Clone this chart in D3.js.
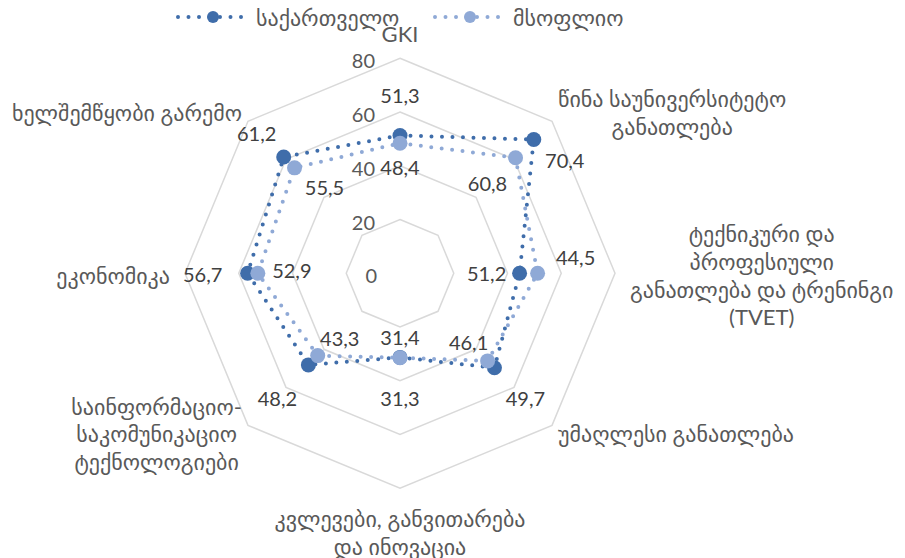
<!DOCTYPE html>
<html>
<head>
<meta charset="utf-8">
<script src="https://cdn.jsdelivr.net/npm/d3@7"></script>
<style>
  html, body { margin: 0; padding: 0; background: #fff; }
  svg { display: block; }
  text { font-family: "Lato", "DejaVu Sans", sans-serif; }
</style>
</head>
<body>
<svg id="chart" width="905" height="558"></svg>
<script>
// Global Knowledge Index pillars: Georgia vs. world average
const categories = [
  "GKI",
  "წინა საუნივერსიტეტო\nგანათლება",
  "ტექნიკური და\nპროფესიული\nგანათლება და ტრენინგი\n(TVET)",
  "უმაღლესი განათლება",
  "კვლევები, განვითარება\nდა ინოვაცია",
  "საინფორმაციო-\nსაკომუნიკაციო\nტექნოლოგიები",
  "ეკონომიკა",
  "ხელშემწყობი გარემო"
];
const seriesNames = ["საქართველო", "მსოფლიო"];
const georgiaValues = [51.3, 70.4, 44.5, 49.7, 31.3, 48.2, 56.7, 61.2];
const worldValues = [48.4, 60.8, 51.2, 46.1, 31.4, 43.3, 52.9, 55.5];
const tickValues = [0, 20, 40, 60, 80];

// Layout and style
const cx = 400, cy = 273.3, R = 215;
const colors = ["#3f6daa", "#8fa9d6"];
const gridColor = "#d9d9d9";
const axisText = "#595959";
const valueText = "#404040";
const catFont = 22;
const numFont = 20;

// Data-label nudges (pixels from each marker), per series and axis
const labelNudge = [
  [[0, -40], [31, 20], [56, -16], [31, 30], [0, 41], [-31, 33], [-45, 1], [-27, -24]],
  [[0, 24], [-28, 25], [-51, 0], [-19, -19], [0, -21], [22, -18], [34, -3], [30, 19]]
];

const svg = d3.select("#chart");
const n = categories.length;
const r = d3.scaleLinear().domain([0, 80]).range([0, R]);
const angle = d3.scaleLinear().domain([0, n]).range([0, 2 * Math.PI]);
const fmt = v => d3.format(".1f")(v).replace(".", ",");

const pt = (i, v) => {
  const a = angle(i);
  return [cx + r(v) * Math.sin(a), cy - r(v) * Math.cos(a)];
};

const g = svg.append("g");

// Octagonal grid rings
const ring = d3.lineRadial()
  .angle((d, i) => angle(i))
  .radius(d => r(d))
  .curve(d3.curveLinearClosed);

g.append("g")
  .attr("transform", `translate(${cx},${cy})`)
  .selectAll("path")
  .data(tickValues.filter(t => t > 0))
  .join("path")
  .attr("d", t => ring(d3.range(n).map(() => t)))
  .attr("fill", "none")
  .attr("stroke", gridColor)
  .attr("stroke-width", 1.5);

// Radial tick labels along the top axis
g.append("g")
  .selectAll("text")
  .data(tickValues)
  .join("text")
  .attr("x", t => cx - 25 + (t === 0 ? 2 : 0))
  .attr("y", t => cy - r(t) + 2)
  .attr("text-anchor", "end")
  .attr("dominant-baseline", "central")
  .attr("font-size", numFont)
  .attr("fill", axisText)
  .text(t => t);

// Category labels around the outer ring
const catG = g.append("g");
categories.forEach((label, i) => {
  const a = angle(i);
  const sx = Math.sin(a), sy = -Math.cos(a);
  const [vx, vy] = pt(i, 80);
  const lines = label.split("\n");
  const LH = 27.7;
  const t = catG.append("text")
    .attr("font-size", catFont)
    .attr("fill", axisText)
    .attr("text-anchor", "middle");
  const spans = lines.map(s => t.append("tspan").attr("dominant-baseline", "central").text(s));
  const W = d3.max(spans, s => s.node().getComputedTextLength());
  let xc, yc;
  if (Math.abs(sx) < 0.1) {
    xc = vx;
    yc = sy < 0 ? vy - 25 - (lines.length - 1) * LH / 2
                : vy + 30 + (lines.length - 1) * LH / 2;
  } else {
    const pad = Math.abs(sy) < 0.1 ? 15 : 6;
    xc = sx > 0 ? vx + pad + W / 2 : vx - pad - W / 2;
    yc = vy + sy * 12 + (Math.abs(sy) < 0.1 ? 2 : 0);
  }
  spans.forEach((s, k) => {
    s.attr("x", xc).attr("y", yc + (k - (lines.length - 1) / 2) * LH);
  });
});

// Series polygons, markers and value labels
const series = [georgiaValues, worldValues];
const line = d3.line().curve(d3.curveLinearClosed);

series.forEach((vals, si) => {
  const sg = g.append("g");
  const pts = vals.map((v, i) => pt(i, v));
  sg.append("path")
    .attr("d", line(pts))
    .attr("fill", "none")
    .attr("stroke", colors[si])
    .attr("stroke-width", 4)
    .attr("stroke-linecap", "round")
    .attr("stroke-dasharray", "0 10.5");
  sg.selectAll("circle")
    .data(pts)
    .join("circle")
    .attr("cx", d => d[0])
    .attr("cy", d => d[1])
    .attr("r", 7.5)
    .attr("fill", colors[si]);
});

series.forEach((vals, si) => {
  g.append("g")
    .selectAll("text")
    .data(vals)
    .join("text")
    .attr("x", (v, i) => pt(i, v)[0] + labelNudge[si][i][0])
    .attr("y", (v, i) => pt(i, v)[1] + labelNudge[si][i][1])
    .attr("text-anchor", "middle")
    .attr("dominant-baseline", "central")
    .attr("font-size", numFont)
    .attr("fill", valueText)
    .text(v => fmt(v));
});

// Legend
const legendX = [178, 435];
const legend = svg.append("g");
seriesNames.forEach((name, si) => {
  const x0 = legendX[si], y0 = 17;
  legend.append("line")
    .attr("x1", x0).attr("x2", x0 + 67)
    .attr("y1", y0).attr("y2", y0)
    .attr("stroke", colors[si])
    .attr("stroke-width", 4)
    .attr("stroke-linecap", "round")
    .attr("stroke-dasharray", "0 10.5");
  legend.append("circle")
    .attr("cx", x0 + 35).attr("cy", y0)
    .attr("r", 6)
    .attr("fill", colors[si]);
  legend.append("text")
    .attr("x", x0 + 78).attr("y", y0)
    .attr("dominant-baseline", "central")
    .attr("font-size", catFont)
    .attr("fill", axisText)
    .text(name);
});
</script>
</body>
</html>
